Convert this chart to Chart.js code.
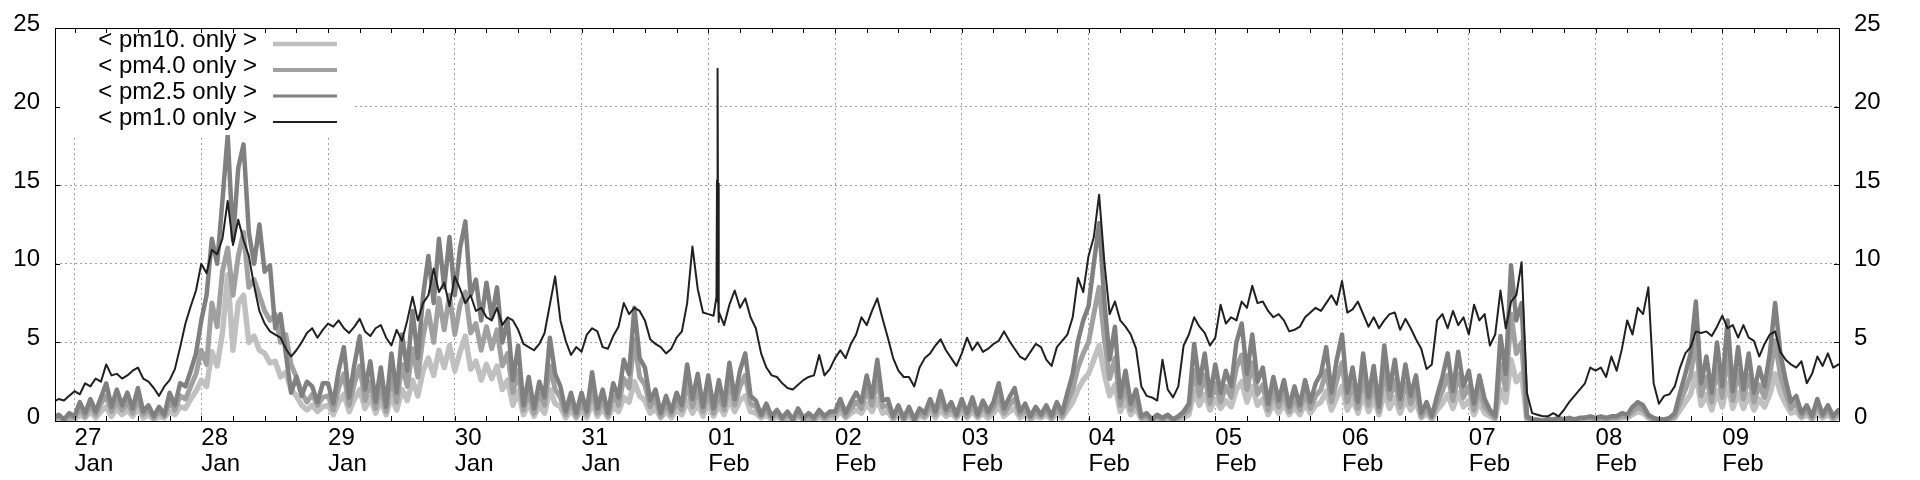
<!DOCTYPE html>
<html>
<head>
<meta charset="utf-8">
<script src="https://cdn.jsdelivr.net/npm/chart.js@4"></script>
<style>
    body { margin: 0; background: #fff; }
</style>
</head>
<body>
<canvas id="pm-chart" width="1920" height="480"></canvas>
<script>
// hourly samples, from 26 Jan 20:00 (hour -4) to 9 Feb 23:00 (hour 335)
const firstHour = -4;

const pm10Only = [
    0.0, 0.2, 0.0, 0.2,
    0.1, 0.4, 0.2, 0.6, 0.2, 0.6, 0.9, 0.3, 0.8, 0.4, 0.7, 0.3, 0.8, 0.2, 0.4, 0.1, 0.3, 0.2, 0.6, 0.4, 0.9, 0.8, 1.4, 1.9,
    2.6, 2.2, 4.4, 3.5, 5.6, 9.3, 4.5, 7.5, 8.0, 5.0, 5.4, 4.5, 4.3, 3.7, 3.8, 2.8, 3.1, 2.0, 1.6, 1.0, 0.7, 1.0, 0.6, 0.9,
    1.0, 0.4, 1.2, 1.7, 0.6, 1.4, 2.0, 0.8, 1.5, 0.5, 1.3, 0.4, 1.6, 0.7, 2.0, 1.3, 2.6, 1.6, 3.2, 4.0, 2.9, 4.5, 3.4, 4.8,
    3.2, 4.4, 5.4, 3.3, 3.8, 2.6, 3.6, 2.7, 3.5, 2.0, 2.6, 1.0, 1.9, 0.4, 1.1, 0.3, 1.0, 0.5, 2.0, 1.1, 0.9, 0.2, 0.7, 0.2,
    0.7, 0.2, 1.2, 0.3, 0.8, 0.2, 0.9, 0.6, 1.5, 1.2, 2.5, 1.6, 1.3, 0.5, 0.8, 0.2, 0.6, 0.2, 0.7, 0.4, 1.3, 0.5, 1.1, 0.3,
    1.1, 0.3, 1.0, 0.4, 1.4, 0.6, 1.3, 1.6, 0.6, 0.5, 0.2, 0.4, 0.1, 0.3, 0.1, 0.2, 0.0, 0.3, 0.1, 0.2, 0.0, 0.3, 0.1, 0.2,
    0.2, 0.6, 0.2, 0.5, 0.7, 0.5, 1.1, 0.6, 1.4, 0.5, 0.6, 0.1, 0.4, 0.1, 0.3, 0.0, 0.3, 0.2, 0.6, 0.2, 0.7, 0.3, 0.5, 0.2,
    0.6, 0.2, 0.6, 0.2, 0.5, 0.2, 0.5, 0.9, 0.3, 0.6, 0.8, 0.2, 0.4, 0.1, 0.3, 0.2, 0.4, 0.1, 0.5, 0.2, 0.7, 1.2, 2.0, 2.6,
    3.0, 3.9, 4.8, 3.0, 1.6, 2.3, 0.6, 1.3, 0.4, 0.8, 0.1, 0.2, 0.0, 0.2, 0.0, 0.2, 0.0, 0.1, 0.2, 0.4, 1.9, 1.0, 1.7, 0.7,
    1.4, 0.8, 1.3, 0.9, 2.0, 2.5, 1.2, 2.2, 1.0, 1.4, 0.4, 1.1, 0.5, 1.1, 0.4, 0.9, 0.4, 1.1, 0.5, 1.0, 1.2, 1.9, 0.7, 1.5,
    2.2, 0.7, 1.4, 0.5, 1.7, 0.6, 1.4, 0.4, 1.9, 0.8, 1.5, 0.5, 1.4, 0.7, 1.2, 0.2, 0.5, 0.1, 0.7, 1.1, 1.7, 0.8, 1.8, 0.9,
    1.3, 0.4, 1.2, 0.5, 0.3, 0.1, 2.0, 1.2, 3.9, 2.5, 3.0, 0.1, 0.0, 0.0, 0.0, 0.0, 0.0, 0.0, 0.0, 0.0, 0.1, 0.0, 0.1, 0.1,
    0.0, 0.1, 0.1, 0.1, 0.1, 0.2, 0.2, 0.4, 0.6, 0.5, 0.2, 0.0, 0.0, 0.0, 0.1, 0.2, 0.7, 1.2, 1.7, 3.0, 1.0, 1.7, 0.7, 1.9,
    0.9, 2.4, 0.8, 1.8, 0.8, 1.7, 0.7, 1.4, 0.9, 1.7, 3.0, 1.8, 1.1, 0.5, 0.6, 0.2, 0.4, 0.1, 0.5, 0.2, 0.4, 0.1, 0.3, 0.2
];

const pm4Only = [
    0.1, 0.3, 0.1, 0.3,
    0.2, 0.8, 0.3, 1.0, 0.4, 1.1, 1.6, 0.6, 1.3, 0.7, 1.2, 0.5, 1.4, 0.4, 0.7, 0.2, 0.6, 0.3, 1.2, 0.7, 1.6, 1.4, 2.2, 3.0,
    4.5, 3.6, 7.5, 6.0, 9.5, 11.0, 8.0, 10.5, 12.0, 8.5, 9.0, 8.0, 7.0, 6.4, 6.8, 5.0, 5.5, 3.6, 2.8, 1.8, 1.2, 1.7, 1.0, 1.5,
    1.6, 0.7, 2.1, 3.0, 1.0, 2.4, 3.5, 1.3, 2.5, 0.8, 2.2, 0.6, 2.8, 1.2, 3.6, 2.2, 4.6, 2.8, 5.4, 7.0, 5.0, 7.8, 5.8, 8.0,
    5.5, 7.4, 8.2, 5.6, 6.2, 4.5, 6.0, 4.6, 5.8, 3.5, 4.3, 1.8, 3.2, 0.7, 1.9, 0.5, 1.7, 1.0, 3.5, 2.0, 1.5, 0.4, 1.2, 0.3,
    1.2, 0.4, 2.1, 0.5, 1.4, 0.3, 1.6, 1.0, 2.7, 2.1, 5.2, 2.8, 2.3, 0.9, 1.4, 0.3, 1.1, 0.4, 1.2, 0.7, 2.4, 0.9, 2.0, 0.6,
    1.9, 0.5, 1.7, 0.7, 2.5, 1.0, 2.2, 2.9, 1.1, 0.9, 0.3, 0.7, 0.2, 0.5, 0.1, 0.4, 0.1, 0.5, 0.1, 0.3, 0.1, 0.5, 0.2, 0.4,
    0.4, 1.0, 0.3, 0.8, 1.2, 0.8, 2.0, 1.0, 2.6, 0.9, 1.0, 0.2, 0.7, 0.1, 0.6, 0.1, 0.5, 0.3, 1.0, 0.4, 1.3, 0.5, 0.8, 0.3,
    1.0, 0.3, 1.0, 0.3, 0.9, 0.4, 0.8, 1.6, 0.5, 1.0, 1.4, 0.4, 0.7, 0.2, 0.6, 0.3, 0.7, 0.2, 0.8, 0.3, 1.2, 2.0, 3.4, 4.3,
    5.0, 6.8, 8.5, 5.2, 2.7, 4.0, 1.0, 2.2, 0.7, 1.3, 0.2, 0.3, 0.1, 0.3, 0.1, 0.3, 0.1, 0.2, 0.4, 0.7, 3.2, 1.6, 2.9, 1.1,
    2.4, 1.2, 2.2, 1.5, 3.4, 4.2, 2.0, 3.7, 1.7, 2.3, 0.7, 1.9, 0.9, 1.8, 0.6, 1.5, 0.7, 1.8, 0.8, 1.6, 2.0, 3.2, 1.2, 2.6,
    3.7, 1.2, 2.3, 0.8, 2.9, 1.0, 2.4, 0.6, 3.2, 1.4, 2.6, 0.9, 2.4, 1.1, 2.0, 0.3, 0.8, 0.2, 1.1, 1.9, 2.9, 1.3, 3.0, 1.5,
    2.2, 0.7, 2.0, 0.9, 0.5, 0.2, 3.6, 2.0, 6.8, 4.3, 5.0, 0.2, 0.1, 0.0, 0.0, 0.1, 0.0, 0.1, 0.1, 0.1, 0.1, 0.1, 0.2, 0.2,
    0.1, 0.2, 0.1, 0.2, 0.2, 0.3, 0.3, 0.6, 0.9, 0.7, 0.3, 0.1, 0.1, 0.1, 0.1, 0.3, 1.2, 2.0, 2.9, 5.2, 1.6, 2.8, 1.2, 3.4,
    1.5, 4.3, 1.3, 3.2, 1.4, 2.9, 1.2, 2.3, 1.5, 2.9, 5.1, 2.9, 1.8, 0.8, 1.1, 0.3, 0.7, 0.2, 1.0, 0.3, 0.7, 0.2, 0.5, 0.3
];

const pm25Only = [
    0.2, 0.4, 0.1, 0.5,
    0.3, 1.2, 0.5, 1.4, 0.6, 1.5, 2.4, 0.9, 2.0, 1.0, 1.8, 0.8, 2.1, 0.6, 1.0, 0.3, 0.9, 0.4, 1.8, 1.0, 2.4, 2.2, 3.2, 4.3,
    6.4, 8.0, 11.6, 10.0, 14.0, 18.2, 11.5, 16.1, 17.6, 12.0, 10.0, 12.5, 9.5, 9.9, 5.9, 6.8, 4.3, 1.8, 2.8, 1.6, 2.5, 2.2, 1.2, 2.4,
    2.4, 1.1, 3.2, 4.7, 1.5, 3.6, 5.4, 2.0, 3.8, 1.2, 3.4, 0.9, 4.3, 1.8, 5.5, 3.2, 7.0, 4.0, 8.0, 10.5, 7.5, 11.6, 8.5, 11.7,
    8.0, 11.0, 12.7, 8.0, 9.0, 6.4, 8.8, 6.6, 8.5, 5.0, 6.4, 2.6, 4.8, 1.0, 2.8, 0.8, 2.5, 1.5, 5.3, 3.0, 2.2, 0.6, 1.8, 0.5,
    1.8, 0.6, 3.1, 0.8, 2.0, 0.5, 2.4, 1.5, 3.9, 3.0, 7.2, 4.0, 3.4, 1.3, 2.0, 0.5, 1.6, 0.6, 1.8, 1.0, 3.6, 1.4, 3.0, 0.9,
    2.9, 0.8, 2.6, 1.0, 3.7, 1.4, 3.2, 4.3, 1.6, 1.3, 0.4, 1.1, 0.3, 0.7, 0.2, 0.6, 0.1, 0.8, 0.2, 0.5, 0.2, 0.7, 0.3, 0.6,
    0.6, 1.4, 0.5, 1.2, 1.8, 1.2, 2.9, 1.5, 3.9, 1.3, 1.4, 0.3, 1.0, 0.2, 0.9, 0.1, 0.8, 0.5, 1.4, 0.6, 1.9, 0.7, 1.2, 0.4,
    1.4, 0.5, 1.5, 0.4, 1.3, 0.6, 1.2, 2.4, 0.8, 1.5, 2.1, 0.6, 1.1, 0.3, 0.9, 0.4, 1.0, 0.3, 1.2, 0.5, 1.8, 3.0, 5.1, 6.4,
    7.3, 10.0, 12.6, 7.6, 3.9, 6.0, 1.5, 3.2, 1.1, 2.0, 0.3, 0.5, 0.1, 0.4, 0.2, 0.4, 0.1, 0.3, 0.6, 1.1, 4.9, 2.4, 4.3, 1.6,
    3.6, 1.8, 3.2, 2.2, 5.0, 6.2, 3.0, 5.5, 2.5, 3.4, 1.1, 2.8, 1.3, 2.6, 0.9, 2.2, 1.0, 2.6, 1.2, 2.4, 3.0, 4.7, 1.8, 3.9,
    5.5, 1.8, 3.4, 1.2, 4.3, 1.5, 3.5, 0.9, 4.8, 2.0, 3.9, 1.4, 3.6, 1.6, 2.9, 0.5, 1.2, 0.3, 1.6, 2.8, 4.3, 1.9, 4.4, 2.2,
    3.2, 1.1, 2.9, 1.4, 0.7, 0.3, 5.4, 3.0, 9.9, 6.4, 7.5, 0.3, 0.1, 0.1, 0.0, 0.1, 0.1, 0.2, 0.1, 0.2, 0.1, 0.2, 0.2, 0.3,
    0.2, 0.3, 0.2, 0.3, 0.3, 0.5, 0.4, 0.9, 1.2, 1.0, 0.4, 0.2, 0.1, 0.1, 0.2, 0.5, 1.8, 3.0, 4.3, 7.6, 2.4, 4.1, 1.8, 5.0,
    2.2, 6.4, 1.9, 4.7, 2.0, 4.3, 1.8, 3.4, 2.2, 4.3, 7.5, 4.3, 2.6, 1.2, 1.6, 0.5, 1.0, 0.3, 1.4, 0.4, 1.0, 0.3, 0.7, 0.5
];

const pm1Only = [
    1.2, 1.4, 1.3, 1.6,
    1.9, 1.7, 2.4, 2.2, 2.7, 2.5, 3.6, 2.9, 3.0, 2.7, 2.9, 3.2, 3.4, 2.7, 2.5, 2.1, 1.6, 2.2, 2.6, 3.3, 4.7, 6.2, 7.3, 8.3,
    10.0, 9.4, 10.9, 10.6, 11.6, 14.0, 11.2, 12.8, 11.5, 10.5, 8.6, 7.0, 6.2, 5.7, 5.5, 5.3, 4.6, 4.1, 4.5, 5.0, 5.6, 5.9, 5.3, 5.8,
    6.2, 6.0, 6.4, 5.9, 5.6, 6.0, 6.5, 5.7, 5.4, 5.9, 6.1, 5.3, 4.8, 5.8, 5.1, 6.4, 7.9, 6.4, 7.5, 8.0, 9.7, 8.2, 8.8, 7.3,
    9.2, 8.4, 7.5, 8.0, 7.0, 7.2, 6.6, 6.4, 7.2, 6.1, 6.6, 6.4, 5.8, 4.9, 4.7, 4.5, 4.9, 5.6, 7.4, 9.2, 6.4, 5.1, 4.2, 4.7,
    4.4, 5.5, 5.9, 5.7, 4.7, 4.6, 5.4, 6.0, 7.5, 6.8, 7.2, 7.0, 6.4, 5.2, 4.9, 4.7, 4.3, 4.6, 5.3, 5.7, 7.5, 11.1, 8.4, 6.9,
    6.8, 6.7, 6.3, 6.1, 7.4, 8.3, 7.2, 7.8, 6.6, 5.9, 4.3, 3.4, 2.9, 2.8, 2.4, 2.1, 2.0, 2.3, 2.6, 2.8, 2.9, 4.2, 2.9, 3.3,
    4.0, 4.5, 4.0, 4.9, 5.5, 6.6, 6.1, 7.0, 7.8, 6.5, 5.3, 4.0, 3.2, 2.8, 2.8, 2.2, 3.4, 4.0, 4.3, 4.8, 5.2, 4.5, 4.0, 3.5,
    4.3, 5.3, 4.5, 5.0, 4.4, 4.6, 4.9, 5.1, 5.7, 5.1, 4.6, 4.1, 3.9, 4.4, 4.9, 4.7, 3.9, 3.5, 4.7, 5.1, 5.5, 6.6, 9.1, 8.2,
    10.5, 11.7, 14.4, 10.1, 6.8, 7.6, 6.4, 6.0, 5.5, 4.6, 2.2, 1.6, 1.5, 1.3, 3.9, 2.0, 1.5, 2.2, 4.8, 5.5, 6.6, 6.0, 5.6, 4.8,
    5.3, 7.4, 6.2, 6.6, 6.4, 7.6, 7.2, 8.6, 7.5, 7.6, 7.0, 6.6, 6.8, 6.4, 5.7, 5.8, 6.0, 6.6, 6.9, 7.2, 7.0, 7.5, 8.0, 7.4,
    8.9, 6.9, 7.1, 7.6, 6.8, 6.0, 6.6, 5.9, 6.4, 6.8, 6.9, 5.8, 6.5, 5.9, 5.2, 4.6, 3.3, 3.6, 6.4, 6.8, 5.9, 7.0, 6.1, 6.6,
    5.5, 7.4, 6.4, 6.8, 4.8, 5.5, 8.3, 5.9, 7.6, 8.0, 10.1, 1.8, 0.5, 0.4, 0.3, 0.3, 0.5, 0.3, 0.7, 1.2, 1.6, 2.0, 2.4, 3.4,
    3.2, 3.4, 2.8, 4.1, 3.2, 4.6, 6.4, 5.5, 7.2, 6.8, 8.5, 2.4, 1.1, 1.6, 1.7, 2.2, 3.4, 4.3, 4.7, 5.7, 5.6, 5.7, 5.4, 6.0,
    6.7, 5.9, 6.1, 5.3, 6.1, 5.3, 5.1, 4.1, 4.9, 5.5, 5.7, 4.4, 3.9, 3.6, 3.4, 3.8, 2.4, 3.0, 4.1, 3.5, 4.3, 3.4, 3.6, 3.6
];

// short spike on 1 Feb, between the hourly samples
const pm1SpikeHours = [121.55, 121.65, 121.72, 121.8, 121.88, 121.95, 122.05];
const pm1SpikeValues = [7.9, 15.3, 7.6, 22.4, 7.7, 15.1, 6.9];

const dayLabels = [
    ['27', 'Jan'], ['28', 'Jan'], ['29', 'Jan'], ['30', 'Jan'], ['31', 'Jan'],
    ['01', 'Feb'], ['02', 'Feb'], ['03', 'Feb'], ['04', 'Feb'], ['05', 'Feb'],
    ['06', 'Feb'], ['07', 'Feb'], ['08', 'Feb'], ['09', 'Feb']
];
const yTicks = [0, 5, 10, 15, 20, 25];

const fontFamily = '"Liberation Sans", Arial, sans-serif';

function toPoints(values) {
    return values.map(function(value, i) {
        return {x: firstHour + i, y: value};
    });
}

function pm1Points() {
    let points = toPoints(pm1Only);
    pm1SpikeHours.forEach(function(hour, i) {
        points.push({x: hour, y: pm1SpikeValues[i]});
    });
    return points.sort(function(a, b) { return a.x - b.x; });
}

// 6-hourly tick marks, every 4th one is a day
let tickHours = [];
for (let h = 0; h <= 330; h += 6) {
    tickHours.push(h);
}

// gnuplot look: black frame, inward ticks, opaque key in the top left corner
const frameAndKey = {
    id: 'frameAndKey',
    afterDatasetsDraw(chart) {
        let ctx = chart.ctx;
        let area = chart.chartArea;
        let xScale = chart.scales.x;
        let yScale = chart.scales.y;

        ctx.save();
        ctx.fillStyle = '#ffffff';
        ctx.fillRect(area.left + 1, area.top + 1, 296, 106);

        ctx.strokeStyle = '#000000';
        ctx.lineWidth = 1;
        ctx.beginPath();
        tickHours.forEach(function(h) {
            let x = Math.round(xScale.getPixelForValue(h)) + 0.5;
            ctx.moveTo(x, area.bottom);
            ctx.lineTo(x, area.bottom - 5);
            ctx.moveTo(x, area.top);
            ctx.lineTo(x, area.top + 5);
        });
        yTicks.forEach(function(v) {
            let y = Math.round(yScale.getPixelForValue(v)) + 0.5;
            ctx.moveTo(area.left, y);
            ctx.lineTo(area.left + 5, y);
            ctx.moveTo(area.right, y);
            ctx.lineTo(area.right - 5, y);
        });
        ctx.stroke();
        ctx.strokeRect(area.left + 0.5, area.top + 0.5, area.right - area.left, area.bottom - area.top);

        ctx.font = '24px ' + fontFamily;
        ctx.textAlign = 'right';
        ctx.textBaseline = 'middle';
        chart.data.datasets.forEach(function(dataset, i) {
            let lineY = area.top + 16 + i * 26;
            ctx.fillStyle = '#000000';
            ctx.fillText(dataset.label, 257, lineY - 4);
            ctx.strokeStyle = dataset.borderColor;
            ctx.lineWidth = dataset.keyWidth;
            ctx.beginPath();
            ctx.moveTo(273, lineY);
            ctx.lineTo(337, lineY);
            ctx.stroke();
        });
        ctx.restore();
    }
};

function lineDataset(label, points, color, width, keyWidth, order) {
    return {
        label: label,
        data: points,
        borderColor: color,
        borderWidth: width,
        keyWidth: keyWidth,
        pointRadius: 0,
        tension: 0,
        borderJoinStyle: 'round',
        order: order
    };
}

const tickFont = {family: fontFamily, size: 24, lineHeight: '26px'};

new Chart(document.getElementById('pm-chart'), {
    type: 'line',
    data: {
        datasets: [
            lineDataset('< pm10. only >', toPoints(pm10Only), '#c0c0c0', 5.5, 4.5, 4),
            lineDataset('< pm4.0 only >', toPoints(pm4Only), '#a0a0a0', 5, 4, 3),
            lineDataset('< pm2.5 only >', toPoints(pm25Only), '#808080', 4.5, 3, 2),
            lineDataset('< pm1.0 only >', pm1Points(), '#202020', 2, 2, 1)
        ]
    },
    options: {
        responsive: false,
        animation: false,
        layout: {
            padding: {top: 21, left: 0, right: 0, bottom: 0}
        },
        plugins: {
            legend: {display: false},
            tooltip: {enabled: false}
        },
        scales: {
            x: {
                type: 'linear',
                min: -3.7,
                max: 334.1,
                afterBuildTicks: function(scale) {
                    scale.ticks = tickHours.map(function(h) { return {value: h}; });
                },
                afterFit: function(scale) {
                    scale.height = 59;
                },
                grid: {
                    drawTicks: false,
                    color: function(context) {
                        return context.tick && context.tick.value % 24 === 0 ? '#a0a0a0' : 'rgba(0,0,0,0)';
                    }
                },
                border: {display: false, dash: [2, 3]},
                ticks: {
                    autoSkip: false,
                    maxRotation: 0,
                    align: 'start',
                    padding: 4,
                    color: '#000000',
                    font: tickFont,
                    callback: function(value) {
                        return value % 24 === 0 ? dayLabels[value / 24] : '';
                    }
                }
            },
            y: {
                position: 'left',
                min: 0,
                max: 25,
                afterBuildTicks: function(scale) {
                    scale.ticks = yTicks.map(function(v) { return {value: v}; });
                },
                afterFit: function(scale) {
                    scale.width = 55;
                },
                grid: {drawTicks: false, color: '#a0a0a0'},
                border: {display: false, dash: [2, 3]},
                ticks: {padding: 15, labelOffset: -4, color: '#000000', font: tickFont}
            },
            y2: {
                position: 'right',
                min: 0,
                max: 25,
                afterBuildTicks: function(scale) {
                    scale.ticks = yTicks.map(function(v) { return {value: v}; });
                },
                afterFit: function(scale) {
                    scale.width = 81;
                },
                grid: {display: false, drawTicks: false},
                border: {display: false},
                ticks: {padding: 15, labelOffset: -4, color: '#000000', font: tickFont}
            }
        }
    },
    plugins: [frameAndKey]
});
</script>
</body>
</html>
